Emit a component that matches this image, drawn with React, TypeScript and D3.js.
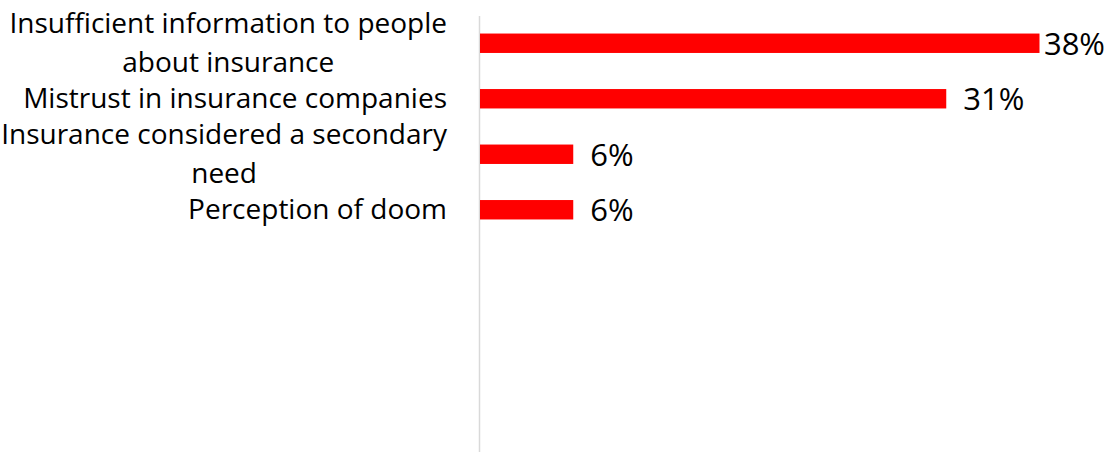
import React from "react";
import * as d3 from "d3";

const categories: string[][] = [
  ["Insufficient information to people", "about insurance"],
  ["Mistrust in insurance companies"],
  ["Insurance considered a secondary", "need"],
  ["Perception of doom"],
];
const values: number[] = [37.5, 31.25, 6.25, 6.25];
const valueLabels: string[] = ["38%", "31%", "6%", "6%"];

const W = 1115;
const H = 452;

let ctx: CanvasRenderingContext2D | null = null;
function measure(s: string, font: string): number {
  if (!ctx) ctx = document.createElement("canvas").getContext("2d");
  if (!ctx) return s.length * 13;
  ctx.font = font;
  return ctx.measureText(s).width;
}

export default function App() {
  const x = d3.scaleLinear().domain([0, 40]).range([480, 480 + 14.92 * 40]);
  const y = d3
    .scaleBand<number>()
    .domain(d3.range(categories.length))
    .range([15.5, 15.5 + 55.5 * categories.length])
    .paddingInner(0.65)
    .paddingOuter(0.325);
  const catFont = 28;
  const lineH = 39;
  const valFont = 31;
  const labelLimit = 1105;
  const labelRight = 447;
  const fam = "'Open Sans', sans-serif";
  return (
    <svg
      width={W}
      height={H}
      style={{ position: "absolute", left: 0, top: 0, background: "#fff" }}
      fontFamily={fam}
    >
      <line x1={479.5} x2={479.5} y1={16} y2={H} stroke="#d9d9d9" strokeWidth={1.5} />
      {values.map((v, i) => {
        const y0 = y(i)!;
        const cy = y0 + y.bandwidth() / 2;
        const xe = x(v);
        let lx = xe + 17;
        const w = measure(valueLabels[i], `${valFont}px 'Open Sans'`);
        if (lx + w > labelLimit) lx = labelLimit - w;
        const lines = categories[i];
        const capH = 19;
        const firstBase = cy + capH / 2 - ((lines.length - 1) * lineH) / 2;
        const maxW = Math.max(...lines.map((l) => measure(l, `${catFont}px 'Open Sans'`)));
        const multi = lines.length > 1;
        const tx = multi ? labelRight - maxW / 2 : labelRight;
        return (
          <g key={i}>
            <rect x={x(0)} y={y0} width={xe - x(0)} height={y.bandwidth()} fill="#ff0000" />
            <text x={lx} y={cy + 11.5} fontSize={valFont} fill="#000">
              {valueLabels[i]}
            </text>
            <text fontSize={catFont} textAnchor={multi ? "middle" : "end"} fill="#000">
              {lines.map((l, j) => (
                <tspan key={j} x={tx} y={firstBase + j * lineH}>
                  {l}
                </tspan>
              ))}
            </text>
          </g>
        );
      })}
    </svg>
  );
}
